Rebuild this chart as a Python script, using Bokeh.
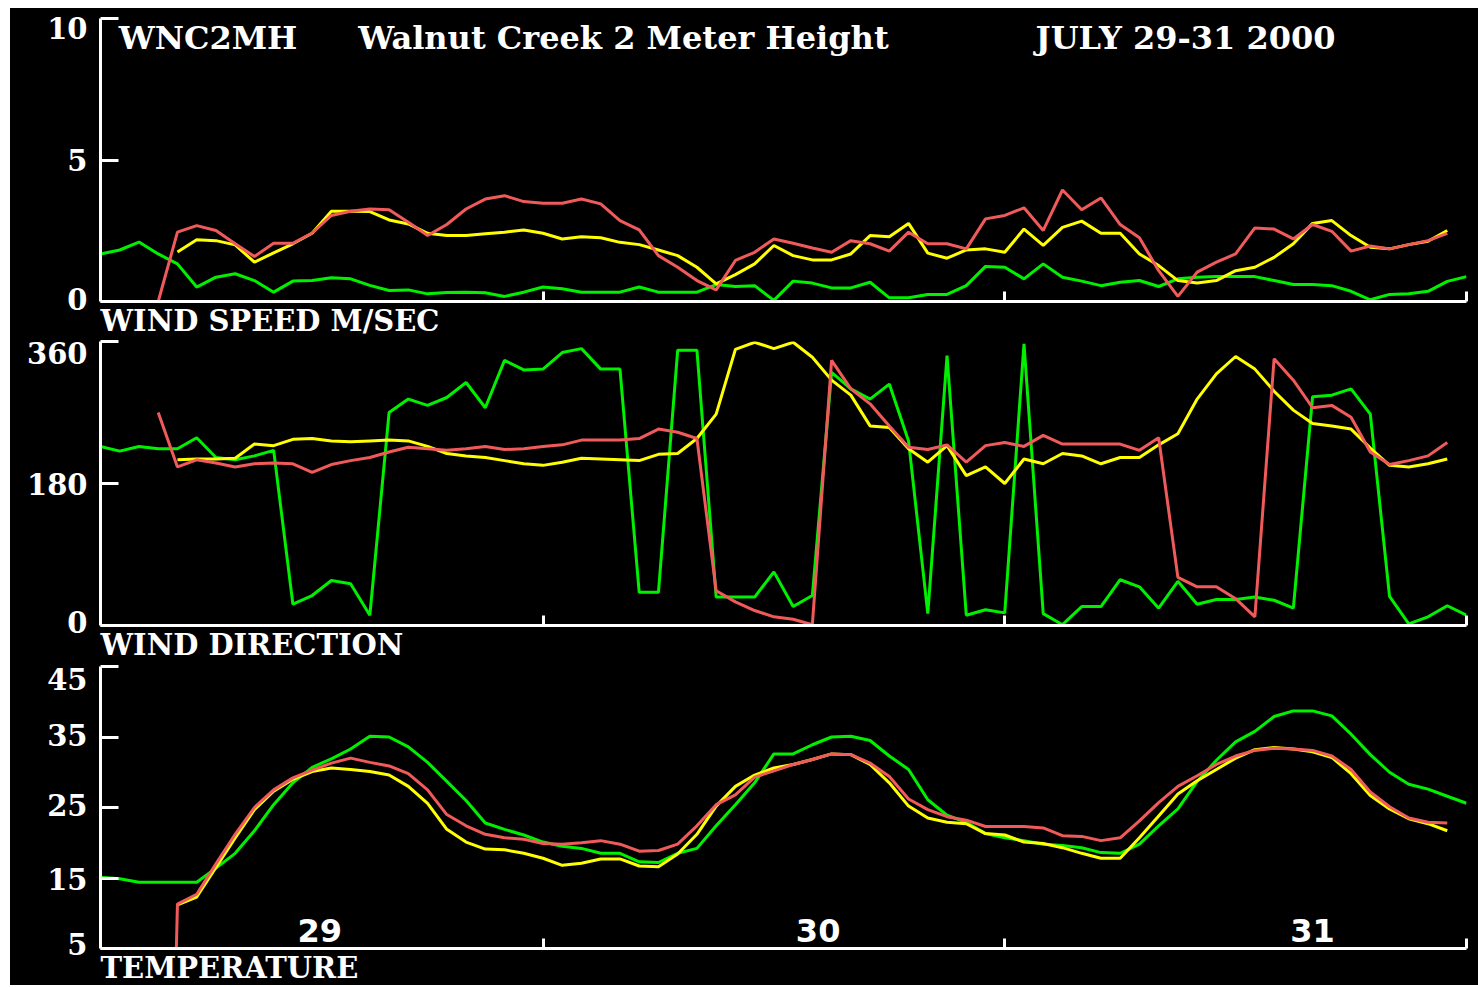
import numpy as np
from bokeh.plotting import figure
from bokeh.layouts import column
from bokeh.models import Range1d, FixedTicker, Title, LinearAxis
from bokeh.core.properties import value
from bokeh.embed import file_html
from bokeh.resources import INLINE

nan = float("nan")

hours = list(range(1, 73))

ws_green = [1.68, 1.82, 2.10, 1.68, 1.33, 0.51, 0.86, 0.98, 0.74, 0.33,
            0.72, 0.74, 0.84, 0.80, 0.57, 0.39, 0.41, 0.27, 0.32, 0.33,
            0.31, 0.18, 0.33, 0.51, 0.45, 0.33, 0.33, 0.33, 0.51, 0.33,
            0.33, 0.33, 0.60, 0.53, 0.56, 0.04, 0.72, 0.65, 0.48, 0.48,
            0.68, 0.13, 0.13, 0.25, 0.25, 0.56, 1.24, 1.21, 0.80, 1.33,
            0.86, 0.72, 0.56, 0.68, 0.74, 0.53, 0.80, 0.86, 0.88, 0.88,
            0.88, 0.74, 0.60, 0.60, 0.56, 0.36, 0.06, 0.25, 0.27, 0.36,
            0.71, 0.88]
ws_yellow = [nan, nan, nan, nan, 1.75, 2.18, 2.15, 2.00, 1.39, 1.72,
             2.04, 2.41, 3.19, 3.19, 3.18, 2.88, 2.74, 2.41, 2.33, 2.33,
             2.39, 2.45, 2.53, 2.41, 2.21, 2.29, 2.25, 2.09, 2.01, 1.82,
             1.62, 1.21, 0.62, 0.95, 1.33, 1.98, 1.62, 1.47, 1.47, 1.68,
             2.33, 2.29, 2.76, 1.71, 1.53, 1.82, 1.86, 1.74, 2.56, 1.98,
             2.62, 2.84, 2.41, 2.41, 1.68, 1.27, 0.74, 0.65, 0.74, 1.09,
             1.21, 1.56, 2.04, 2.76, 2.86, 2.33, 1.92, 1.86, 2.01, 2.13,
             2.51, nan]
ws_red = [nan, nan, nan, 0.00, 2.45, 2.68, 2.51, 2.04, 1.59, 2.06,
          2.06, 2.42, 3.04, 3.19, 3.27, 3.24, 2.80, 2.33, 2.72, 3.27,
          3.62, 3.74, 3.53, 3.47, 3.47, 3.62, 3.45, 2.86, 2.53, 1.62,
          1.21, 0.74, 0.41, 1.45, 1.74, 2.21, 2.06, 1.89, 1.74, 2.15,
          2.04, 1.78, 2.45, 2.04, 2.04, 1.86, 2.92, 3.04, 3.31, 2.51,
          3.94, 3.24, 3.66, 2.72, 2.25, 1.09, 0.18, 1.04, 1.39, 1.68,
          2.60, 2.56, 2.21, 2.72, 2.48, 1.78, 1.96, 1.86, 2.01, 2.15,
          2.41, nan]

wd_green = [227, 221, 227, 224, 224, 238, 213, 210, 215, 222,
            27, 38, 57, 53, 13, 270, 287, 279, 289, 308,
            276, 336, 324, 325, 346, 351, 325, 325, 42, 42,
            349, 349, 36, 36, 36, 68, 24, 38, 321, 300,
            287, 306, 234, 15, 342, 13, 20, 16, 357, 15,
            1, 24, 24, 58, 49, 22, 56, 27, 33, 33,
            36, 32, 22, 290, 292, 300, 268, 37, 2, 11,
            25, 13]
wd_yellow = [nan, nan, nan, nan, 210, 211, 211, 212, 230, 228,
             236, 237, 234, 233, 234, 235, 234, 227, 218, 215,
             213, 209, 205, 203, 207, 212, 211, 210, 209, 217,
             218, 237, 268, 350, 359, 351, 359, 340, 311, 292,
             253, 251, 224, 207, 228, 190, 201, 180, 211, 205,
             218, 215, 205, 213, 213, 229, 243, 287, 319, 341,
             325, 297, 273, 256, 253, 249, 225, 203, 201, 205,
             211, nan]
wd_red = [nan, nan, nan, 270, 201, 210, 206, 201, 205, 206,
          205, 194, 204, 209, 213, 220, 226, 224, 222, 224,
          227, 223, 224, 227, 229, 235, 235, 235, 237, 249,
          245, 237, 44, 30, 19, 11, 8, 1, 336, 300,
          281, 253, 226, 223, 229, 207, 228, 232, 227, 241,
          230, 230, 230, 230, 222, 238, 61, 49, 49, 34,
          11, 338, 311, 276, 279, 264, 220, 204, 209, 215,
          232, nan]

t_green = [15.1, 14.9, 14.4, 14.4, 14.4, 14.4, 16.4, 18.5, 21.7, 25.4,
           28.5, 30.7, 31.9, 33.3, 35.1, 35.0, 33.6, 31.4, 28.7, 26.0,
           22.8, 21.9, 21.1, 20.1, 19.5, 19.2, 18.5, 18.5, 17.3, 17.2,
           18.5, 19.2, 22.4, 25.4, 28.5, 32.6, 32.6, 33.9, 35.0, 35.1,
           34.5, 32.3, 30.4, 26.1, 23.9, 22.9, 21.3, 20.7, 20.3, 19.8,
           19.6, 19.3, 18.6, 18.5, 19.8, 22.4, 24.8, 28.7, 31.7, 34.3,
           35.8, 37.9, 38.7, 38.7, 38.0, 35.4, 32.5, 30.0, 28.3, 27.6,
           26.6, 25.6]
t_yellow = [nan, nan, nan, nan, 11.2, 12.3, 16.5, 20.7, 24.7, 27.3,
            29.0, 30.1, 30.6, 30.4, 30.1, 29.6, 28.0, 25.6, 21.9, 20.1,
            19.1, 19.0, 18.5, 17.8, 16.8, 17.1, 17.7, 17.7, 16.7, 16.6,
            18.4, 21.2, 25.2, 28.0, 29.6, 30.6, 31.1, 31.8, 32.6, 32.5,
            31.1, 28.5, 25.2, 23.5, 22.9, 22.7, 21.3, 21.1, 20.1, 19.9,
            19.3, 18.5, 17.8, 17.8, 20.7, 23.8, 26.9, 28.8, 30.4, 32.0,
            33.2, 33.5, 33.3, 32.9, 32.1, 29.8, 26.7, 24.8, 23.4, 22.7,
            21.7, nan]
t_red = [nan, nan, nan, -99.0, 11.3, 12.7, 17.0, 21.2, 25.0, 27.5,
         29.2, 30.3, 31.3, 32.0, 31.4, 30.9, 29.8, 27.5, 24.0, 22.4,
         21.2, 20.7, 20.5, 19.9, 19.8, 20.0, 20.3, 19.8, 18.8, 18.9,
         19.8, 22.4, 25.4, 26.8, 29.3, 30.2, 31.1, 31.8, 32.6, 32.5,
         31.3, 29.4, 26.2, 24.7, 23.7, 23.2, 22.3, 22.3, 22.3, 22.1,
         21.0, 20.9, 20.3, 20.7, 23.1, 25.7, 28.0, 29.5, 31.1, 32.3,
         33.1, 33.4, 33.3, 33.1, 32.3, 30.4, 27.2, 25.1, 23.5, 22.9,
         22.8, nan]

x_ticks = [24, 48, 72]
ws_ticks = [0, 5, 10]
wd_ticks = [0, 180, 360]
t_ticks = [5, 15, 25, 35, 45]
ws_tick_labels = ["0", "5", "10"]
wd_tick_labels = ["0", "180", "360"]
t_tick_labels = ["5", "15", "25", "35", "45"]

day_labels = ["29", "30", "31"]

title_parts = ["WNC2MH", "Walnut Creek 2 Meter Height", "JULY 29-31 2000"]

# ---- placement (layout only) ----
ws_label_at = [0.1, 5.0, 9.68]
wd_label_at = [4, 179, 346]
t_label_at = [5.6, 14.9, 25.4, 35.3, 43.3]
day_pos = [12.4, 38.3, 64.0]
title_pos = [1.95, 14.4, 49.6]

GREEN = "#00f000"
YELLOW = "#ffff00"
RED = "#f05a5a"
FONT = "DejaVu Serif"

W = 1468


def make_panel(height, yr, yticks, label_at, label_txt, label, top=10, bottom=30):
    p = figure(width=W, height=height, output_backend="svg", toolbar_location=None,
               x_range=Range1d(1, 72), y_range=Range1d(*yr),
               min_border_left=90, min_border_right=12,
               min_border_top=top, min_border_bottom=bottom)
    p.background_fill_color = "black"
    p.border_fill_color = "black"
    p.outline_line_color = None
    p.grid.visible = False
    xa = p.xaxis[0]
    xa.ticker = FixedTicker(ticks=x_ticks)
    xa.major_tick_in = 10
    xa.major_tick_out = 0
    xa.minor_tick_line_color = None
    xa.axis_line_color = "white"
    xa.axis_line_width = 3
    xa.major_tick_line_color = "white"
    xa.major_tick_line_width = 3
    xa.major_label_text_color = None
    xa.major_label_text_font_size = "1px"
    xa.major_label_standoff = 0
    ya = p.yaxis[0]
    ya.ticker = FixedTicker(ticks=yticks)
    ya.major_tick_in = 18
    ya.major_tick_out = 0
    ya.minor_tick_line_color = None
    ya.axis_line_color = "white"
    ya.axis_line_width = 3
    ya.major_tick_line_color = "white"
    ya.major_tick_line_width = 3
    ya.major_label_text_color = None
    ya.major_label_text_font_size = "1px"
    ya.major_label_standoff = 0
    lab = LinearAxis(ticker=FixedTicker(ticks=label_at),
                     major_label_overrides={v: s for v, s in zip(label_at, label_txt)},
                     axis_line_color=None, major_tick_line_color=None,
                     minor_tick_line_color=None, major_tick_in=0, major_tick_out=0,
                     major_label_standoff=13, major_label_text_color="white",
                     major_label_text_font=FONT, major_label_text_font_style="bold",
                     major_label_text_font_size="29px")
    p.add_layout(lab, "left")
    t = Title(text=label, align="left", text_color="white", text_font=FONT,
              text_font_style="bold", text_font_size="29px", standoff=0, offset=0)
    p.add_layout(t, "below")
    return p


def draw(p, g, y, r):
    p.line(hours, g, line_color=GREEN, line_width=3)
    p.line(hours, y, line_color=YELLOW, line_width=3)
    p.line(hours, r, line_color=RED, line_width=3)


p1 = make_panel(330, (0, 10), ws_ticks, ws_label_at, ws_tick_labels,
                "WIND SPEED M/SEC", top=10, bottom=37)
draw(p1, ws_green, ws_yellow, ws_red)
p1.text(x=title_pos, y=[9.3, 9.3, 9.3], text=title_parts, text_color="white",
        text_font=value(FONT), text_font_style="bold", text_font_size="32px",
        text_align="left", text_baseline="middle")

p2 = make_panel(324, (0, 360), wd_ticks, wd_label_at, wd_tick_labels,
                "WIND DIRECTION", top=3, bottom=37)
draw(p2, wd_green, wd_yellow, wd_red)

p3 = make_panel(323, (5, 45), t_ticks, t_label_at, t_tick_labels,
                "TEMPERATURE", top=4, bottom=37)
draw(p3, t_green, t_yellow, t_red)
p3.text(x=day_pos, y=[7.6, 7.6, 7.6], text=day_labels, text_color="white",
        text_font=value("DejaVu Sans"), text_font_style="bold", text_font_size="32px",
        text_align="center", text_baseline="middle")

layout = column(p1, p2, p3, spacing=0, margin=(8, 0, 0, 10),
                styles={"background-color": "black"})

open("out.html", "w").write(file_html(layout, INLINE))
